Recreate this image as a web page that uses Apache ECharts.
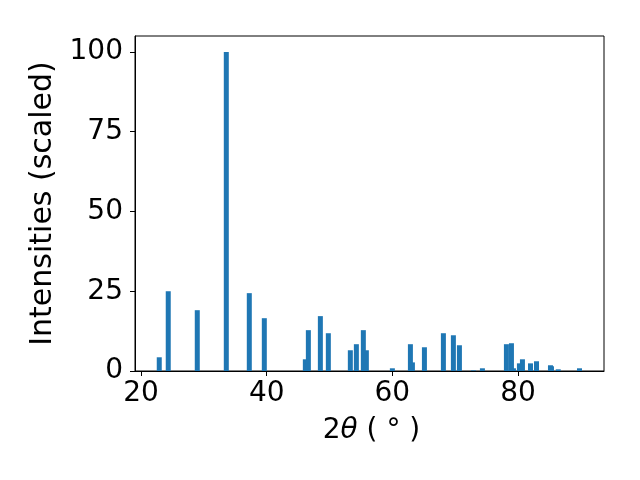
<!DOCTYPE html>
<html>
<head>
<meta charset="utf-8">
<script src="https://cdn.jsdelivr.net/npm/echarts@6/dist/echarts.min.js"></script>
<style>html,body{margin:0;padding:0;background:#fff}#c{width:640px;height:480px}</style>
</head>
<body>
<div id="c"></div>
<script>
const twoTheta = [22.9, 24.33, 28.95, 33.57, 37.23, 39.62, 46.15, 46.63, 48.54, 49.81, 53.31, 54.27, 55.38, 55.86, 60.0, 62.87, 63.19, 65.1, 68.12, 69.71, 70.67, 72.9, 74.33, 78.15, 78.95, 79.27, 80.22, 80.7, 81.98, 82.94, 85.16, 85.32, 86.4, 89.78];
const intensity = [4.3, 25.0, 19.06, 100, 24.4, 16.55, 3.67, 12.8, 17.2, 11.84, 6.5, 8.4, 12.8, 6.5, 0.85, 8.4, 2.7, 7.44, 11.84, 11.2, 8.07, 0.2, 0.85, 8.4, 8.7, 0.85, 2.4, 3.67, 2.4, 3.05, 1.8, 1.48, 0.53, 0.85];
const xTicks = [20, 40, 60, 80];
const yTicks = [0, 25, 50, 75, 100];

const chart = echarts.init(document.getElementById('c'));
const font = 'DejaVu Sans';
chart.setOption({
  animation: false,
  grid: {left: 135, right: 36, top: 36, bottom: 109, show: true, borderColor: '#000', borderWidth: 1},
  xAxis: {
    type: 'value', min: 19.04, max: 93.68,
    splitLine: {show: false},
    axisLine: {show: true, onZero: false, lineStyle: {color: '#000', width: 1}},
    axisTick: {show: true, length: 5, customValues: xTicks, lineStyle: {color: '#000'}},
    axisLabel: {customValues: xTicks, fontFamily: font, fontSize: 28, color: '#000', margin: 9},
    name: '2{t|θ} ( ° )', nameLocation: 'middle', nameGap: 46,
    nameTextStyle: {fontFamily: font, fontSize: 28, color: '#000', padding: [0, 0, 0, 4], rich: {t: {fontFamily: font, fontSize: 28, fontStyle: 'italic', color: '#000'}}}
  },
  yAxis: {
    type: 'value', min: 0, max: 105,
    splitLine: {show: false},
    axisLine: {show: true, lineStyle: {color: '#000', width: 1}},
    axisTick: {show: true, length: 5, customValues: yTicks, lineStyle: {color: '#000'}},
    axisLabel: {customValues: yTicks, fontFamily: font, fontSize: 28, color: '#000', margin: 12},
    name: 'Intensities (scaled)', nameLocation: 'middle', nameGap: 73,
    nameTextStyle: {fontFamily: font, fontSize: 30, color: '#000'}
  },
  series: [{
    type: 'bar',
    data: twoTheta.map((x, i) => [x, intensity[i]]),
    barWidth: 5,
    itemStyle: {color: '#1f77b4'}
  }]
});
</script>
</body>
</html>
